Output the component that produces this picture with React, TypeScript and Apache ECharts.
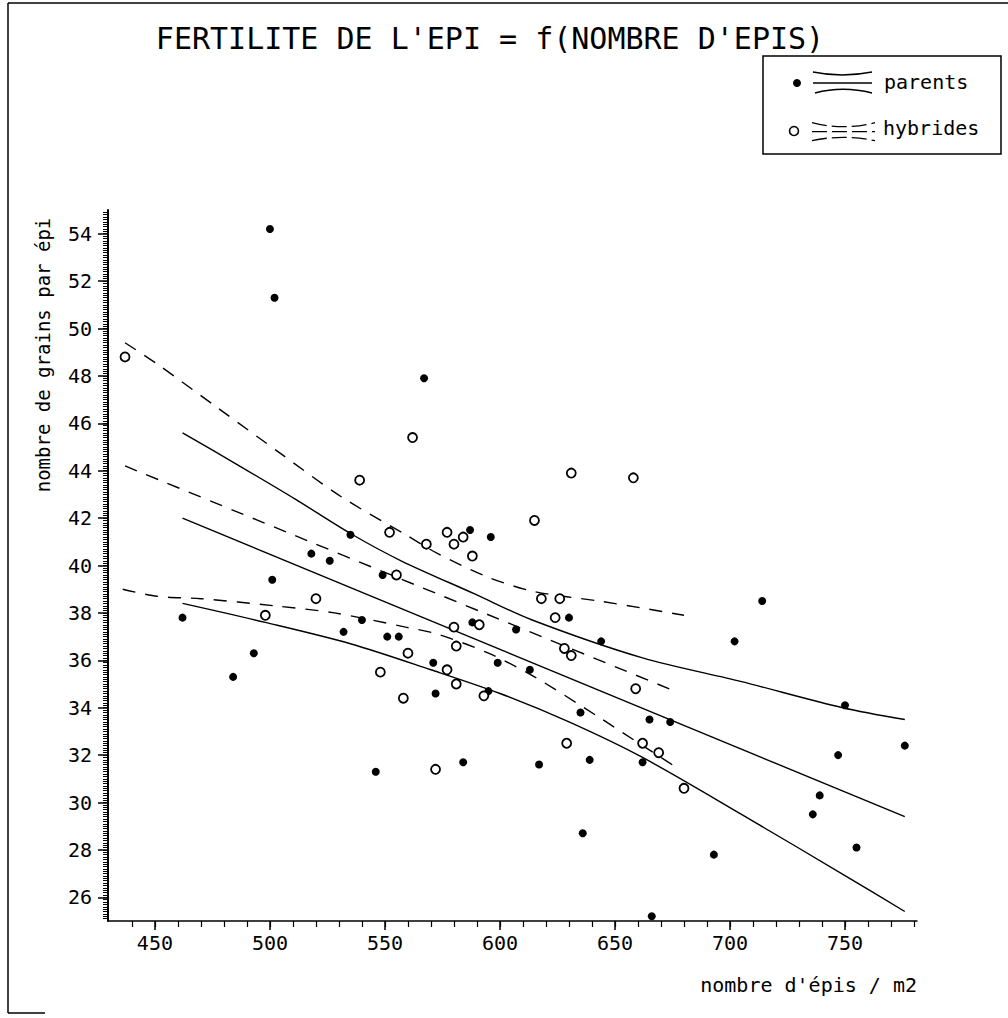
import React, { useEffect, useRef } from "react";
import * as echarts from "echarts";

// ---- scatter data ----
const parentsX = [500, 502, 567, 462, 484, 493, 501, 518, 526, 535, 532, 540, 549, 551, 556, 546, 571, 572, 584, 587, 588, 595, 596, 599, 607, 613, 617, 630, 635, 636, 639, 644, 662, 665, 666, 674, 693, 702, 714, 736, 739, 747, 750, 755, 776];
const parentsY = [54.2, 51.3, 47.9, 37.8, 35.3, 36.3, 39.4, 40.5, 40.2, 41.3, 37.2, 37.7, 39.6, 37.0, 37.0, 31.3, 35.9, 34.6, 31.7, 41.5, 37.6, 34.7, 41.2, 35.9, 37.3, 35.6, 31.6, 37.8, 33.8, 28.7, 31.8, 36.8, 31.7, 33.5, 25.2, 33.4, 27.8, 36.8, 38.5, 29.5, 30.3, 32.0, 34.1, 28.1, 32.4];

const hybridsX = [437, 562, 539, 615, 552, 577, 584, 580, 568, 588, 555, 520, 618, 631, 658, 626, 624, 628, 631, 498, 662, 669, 680, 659, 629, 548, 558, 560, 572, 577, 580, 581, 581, 591, 593];
const hybridsY = [48.8, 45.4, 43.6, 41.9, 41.4, 41.4, 41.2, 40.9, 40.9, 40.4, 39.6, 38.6, 38.6, 43.9, 43.7, 38.6, 37.8, 36.5, 36.2, 37.9, 32.5, 32.1, 30.6, 34.8, 32.5, 35.5, 34.4, 36.3, 31.4, 35.6, 37.4, 36.6, 35.0, 37.5, 34.5];

// ---- regression lines and bands ----
const parentsFitX = [462, 776];
const parentsFitY = [42.0, 29.4];
const parentsUpperX = [462, 485, 511, 535, 557, 589, 614, 662, 705, 749, 776];
const parentsUpperY = [45.6, 44.3, 42.8, 41.35, 40.2, 38.8, 37.7, 36.1, 35.1, 34.0, 33.5];
const parentsLowerX = [462, 498, 535, 570, 600, 630, 662, 705, 752, 776];
const parentsLowerY = [38.4, 37.6, 36.7, 35.6, 34.6, 33.4, 31.9, 29.5, 26.8, 25.4];

const hybridsFitX = [437, 676];
const hybridsFitY = [44.2, 34.7];
const hybridsUpperX = [437, 451, 478, 505, 531, 559, 573, 595, 615, 643, 662, 680];
const hybridsUpperY = [49.4, 48.5, 46.6, 44.7, 42.9, 41.3, 40.5, 39.5, 38.9, 38.5, 38.2, 37.9];
const hybridsLowerX = [436, 451, 470, 502, 528, 559, 573, 595, 615, 643, 662, 678];
const hybridsLowerY = [39.0, 38.7, 38.6, 38.3, 38.0, 37.4, 37.1, 36.3, 35.3, 33.6, 32.4, 31.4];

// ---- axis ticks ----
const xTickLabels = [450, 500, 550, 600, 650, 700, 750];
const yTickLabels = [26, 28, 30, 32, 34, 36, 38, 40, 42, 44, 46, 48, 50, 52, 54];

const TITLE = "FERTILITE DE L'EPI = f(NOMBRE D'EPIS)";
const Y_NAME = "nombre de grains par épi";
const X_NAME = "nombre d'épis / m2";

const pairs = (xs: number[], ys: number[]) => xs.map((x, i) => [x, ys[i]]);

export default function App() {
  const ref = useRef<HTMLDivElement>(null);

  useEffect(() => {
    if (!ref.current) return;
    const chart = echarts.init(ref.current, null, { renderer: "svg" });
    const FONT = "DejaVu Sans Mono";
    const X_MIN = 429.6, X_MAX = 781.3, Y_MIN = 25, Y_MAX = 55;
    const gridRect = { left: 108, top: 210, width: 809, height: 711 };

    const xMinor: number[] = [];
    for (let v = 440; v <= 780; v += 10) xMinor.push(v);
    const yMinor: number[] = [];
    for (let i = 251; i <= 549; i += 1) yMinor.push(i / 10);

    const black = "#000";
    const solid = { color: black, width: 1.4, type: "solid" as const };
    const dashed = { color: black, width: 1.4, type: [13, 10] as any };

    const lineSeries = (xs: number[], ys: number[], style: any) => ({
      type: "line",
      xAxisIndex: 0,
      yAxisIndex: 0,
      data: pairs(xs, ys),
      showSymbol: false,
      symbol: "none",
      smooth: 0.3,
      lineStyle: style,
      silent: true,
      z: 2,
    });

    const option: any = {
      animation: false,
      backgroundColor: "#fff",
      grid: [
        { ...gridRect, show: false },
        { ...gridRect, show: false },
      ],
      xAxis: [
        {
          type: "value",
          gridIndex: 0,
          min: X_MIN,
          max: X_MAX,
          position: "bottom",
          axisLine: { show: true, onZero: false, lineStyle: { color: black, width: 1.5 } },
          axisTick: { show: true, customValues: xMinor, length: 6, lineStyle: { color: black, width: 1.2 } },
          axisLabel: { show: true, customValues: xTickLabels, color: black, fontFamily: FONT, fontSize: 20, margin: 12 },
          splitLine: { show: false },
        },
        {
          type: "value",
          gridIndex: 1,
          min: X_MIN,
          max: X_MAX,
          position: "bottom",
          axisLine: { show: false, onZero: false },
          axisTick: { show: true, customValues: xTickLabels, length: 9, lineStyle: { color: black, width: 1.5 } },
          axisLabel: { show: false },
          splitLine: { show: false },
        },
      ],
      yAxis: [
        {
          type: "value",
          gridIndex: 0,
          min: Y_MIN,
          max: Y_MAX,
          position: "left",
          axisLine: { show: true, onZero: false, lineStyle: { color: black, width: 2 } },
          axisTick: { show: true, customValues: yMinor, length: 5, lineStyle: { color: black, width: 1 } },
          axisLabel: { show: true, customValues: yTickLabels, color: black, fontFamily: FONT, fontSize: 20, margin: 16 },
          splitLine: { show: false },
        },
        {
          type: "value",
          gridIndex: 1,
          min: Y_MIN,
          max: Y_MAX,
          position: "left",
          axisLine: { show: false, onZero: false },
          axisTick: { show: true, customValues: yTickLabels, length: 10, lineStyle: { color: black, width: 1.5 } },
          axisLabel: { show: false },
          splitLine: { show: false },
        },
      ],
      series: [
        lineSeries(parentsFitX, parentsFitY, solid),
        lineSeries(parentsUpperX, parentsUpperY, solid),
        lineSeries(parentsLowerX, parentsLowerY, solid),
        lineSeries(hybridsFitX, hybridsFitY, dashed),
        lineSeries(hybridsUpperX, hybridsUpperY, dashed),
        lineSeries(hybridsLowerX, hybridsLowerY, dashed),
        {
          name: "parents",
          type: "scatter",
          xAxisIndex: 0,
          yAxisIndex: 0,
          data: pairs(parentsX, parentsY),
          symbol: "circle",
          symbolSize: 8,
          itemStyle: { color: black, opacity: 1 },
          z: 3,
        },
        {
          name: "hybrides",
          type: "scatter",
          xAxisIndex: 0,
          yAxisIndex: 0,
          data: pairs(hybridsX, hybridsY),
          symbol: "circle",
          symbolSize: 9,
          itemStyle: { color: "#fff", borderColor: black, borderWidth: 1.8, opacity: 1 },
          z: 4,
        },
      ],
      graphic: [
        // page frame
        { type: "line", shape: { x1: 8, y1: 3, x2: 1008, y2: 3 }, style: { stroke: black, lineWidth: 1.5 } },
        { type: "line", shape: { x1: 8, y1: 3, x2: 8, y2: 1013 }, style: { stroke: black, lineWidth: 1.5 } },
        { type: "line", shape: { x1: 8, y1: 1013, x2: 45, y2: 1013 }, style: { stroke: black, lineWidth: 1.5 } },
        // title
        {
          type: "text",
          x: 490,
          y: 38,
          style: { text: TITLE, fill: black, font: `30px "${FONT}"`, textAlign: "center", textVerticalAlign: "middle" },
        },
        // y axis name
        {
          type: "text",
          x: 43,
          y: 355,
          rotation: Math.PI / 2,
          style: { text: Y_NAME, fill: black, font: `19px "${FONT}"`, textAlign: "center", textVerticalAlign: "middle" },
        },
        // x axis name
        {
          type: "text",
          x: 917,
          y: 985,
          style: { text: X_NAME, fill: black, font: `20px "${FONT}"`, textAlign: "right", textVerticalAlign: "middle" },
        },
        // legend box
        { type: "rect", shape: { x: 763, y: 56, width: 238, height: 98 }, style: { fill: "none", stroke: black, lineWidth: 1.5 } },
        { type: "circle", shape: { cx: 797, cy: 83, r: 4 }, style: { fill: black } },
        { type: "bezierCurve", shape: { x1: 813, y1: 72, x2: 872, y2: 72, cpx1: 842, cpy1: 78 }, style: { fill: "none", stroke: black, lineWidth: 1.3 } },
        { type: "line", shape: { x1: 813, y1: 83, x2: 872, y2: 83 }, style: { stroke: black, lineWidth: 1.3 } },
        { type: "bezierCurve", shape: { x1: 815, y1: 93, x2: 872, y2: 93, cpx1: 843, cpy1: 85.5 }, style: { fill: "none", stroke: black, lineWidth: 1.3 } },
        { type: "text", x: 884, y: 82, style: { text: "parents", fill: black, font: `20px "${FONT}"`, textVerticalAlign: "middle" } },
        { type: "circle", shape: { cx: 794, cy: 131, r: 4.5 }, style: { fill: "#fff", stroke: black, lineWidth: 1.6 } },
        { type: "bezierCurve", shape: { x1: 812, y1: 122.7, x2: 875, y2: 122.7, cpx1: 843, cpy1: 130.7 }, style: { fill: "none", stroke: black, lineWidth: 1.3, lineDash: [15, 5] } },
        { type: "line", shape: { x1: 812, y1: 131.7, x2: 875, y2: 131.7 }, style: { stroke: black, lineWidth: 1.3, lineDash: [15, 5] } },
        { type: "bezierCurve", shape: { x1: 812, y1: 140.7, x2: 875, y2: 140.7, cpx1: 843, cpy1: 134 }, style: { fill: "none", stroke: black, lineWidth: 1.3, lineDash: [15, 5] } },
        { type: "text", x: 883, y: 128, style: { text: "hybrides", fill: black, font: `20px "${FONT}"`, textVerticalAlign: "middle" } },
      ],
    };

    chart.setOption(option);
    return () => chart.dispose();
  }, []);

  return (
    <div
      ref={ref}
      style={{ position: "fixed", left: 0, top: 0, width: 1008, height: 1018, background: "#fff" }}
    />
  );
}
